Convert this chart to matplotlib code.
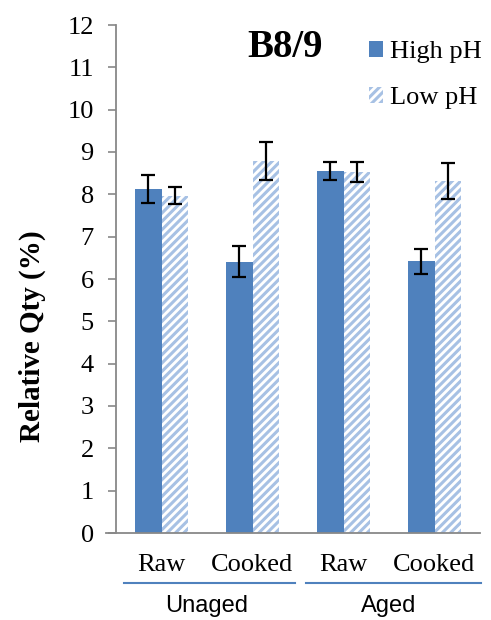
import matplotlib
matplotlib.use("Agg")
import matplotlib.pyplot as plt
import numpy as np
from matplotlib.patches import Patch
from matplotlib.lines import Line2D

# data
categories = ["Raw", "Cooked", "Raw", "Cooked"]
groups = ["Unaged", "Aged"]
high_ph = [8.12, 6.41, 8.55, 6.42]
high_err = [0.33, 0.37, 0.22, 0.30]
low_ph = [7.97, 8.79, 8.53, 8.31]
low_err = [0.20, 0.45, 0.24, 0.42]

blue = "#4f81bd"
hatch_blue = "#a7c1e4"
serif = "Liberation Serif"

plt.rcParams["hatch.linewidth"] = 2.2

fig = plt.figure(figsize=(4.91, 6.2), dpi=100)
ax = fig.add_axes([116/491, 1 - 533/620, (480 - 116)/491, (533 - 25)/620])

x = np.arange(len(categories))
w = 0.29
ax.bar(x - w/2, high_ph, w, color=blue, yerr=high_err,
       error_kw=dict(ecolor="black", elinewidth=1.6, capsize=5, capthick=1.6))
ax.bar(x + w/2, low_ph, w, facecolor="white", edgecolor=hatch_blue, hatch="////",
       linewidth=0, yerr=low_err,
       error_kw=dict(ecolor="black", elinewidth=1.6, capsize=5, capthick=1.6))

ax.set_xlim(-0.5, 3.5)
ax.set_ylim(0, 12)
ax.set_yticks(range(0, 13))
ax.set_yticklabels([str(i) for i in range(0, 13)], fontfamily=serif, fontsize=19)
ax.set_xticks(x)
ax.set_xticklabels(categories, fontfamily=serif, fontsize=19)
ax.tick_params(axis="x", length=0, pad=15)
ax.tick_params(axis="y", length=6, color="#888888", width=1.2, pad=10)

for s in ["top", "right"]:
    ax.spines[s].set_visible(False)
ax.spines["left"].set_color("#888888")
ax.spines["bottom"].set_color("#888888")
ax.spines["left"].set_linewidth(1.3)
ax.spines["bottom"].set_linewidth(1.3)
ax.spines["bottom"].set_bounds(-0.5 - 10/91, 3.5)

ax.text(-0.231, 0.388, "Relative Qty (%)", transform=ax.transAxes, rotation=90,
        fontfamily=serif, fontweight="bold", fontsize=21, ha="center", va="center")

ax.text(0.464, 0.955, "B8/9", transform=ax.transAxes, fontfamily=serif,
        fontweight="bold", fontsize=28, ha="center", va="center")

# group lines and labels under the categories
trans = ax.get_xaxis_transform()
for i, g in enumerate(groups):
    x0 = 2*i - 0.5 + 8/91
    x1 = 2*i + 1.5 - 3/91 if i == 0 else 2*i + 1.5 + 1/91
    ax.add_line(Line2D([x0, x1], [-0.099, -0.099], transform=trans, color=blue,
                       linewidth=1.5, clip_on=False))
    ax.text(2*i + 0.5, -0.143, g, transform=trans, ha="center", va="center",
            fontfamily="Liberation Sans", fontsize=17)

handles = [Patch(facecolor=blue, edgecolor="none", label="High pH"),
           Patch(facecolor="white", edgecolor=hatch_blue, hatch="////", linewidth=0, label="Low pH")]
ax.legend(handles=handles, loc="upper right", bbox_to_anchor=(1.07, 1.016), frameon=False,
          prop=dict(family=serif, size=19), handlelength=0.55, handleheight=0.55,
          handletextpad=0.25, labelspacing=0.9)

fig.savefig("out.png", dpi=100)
